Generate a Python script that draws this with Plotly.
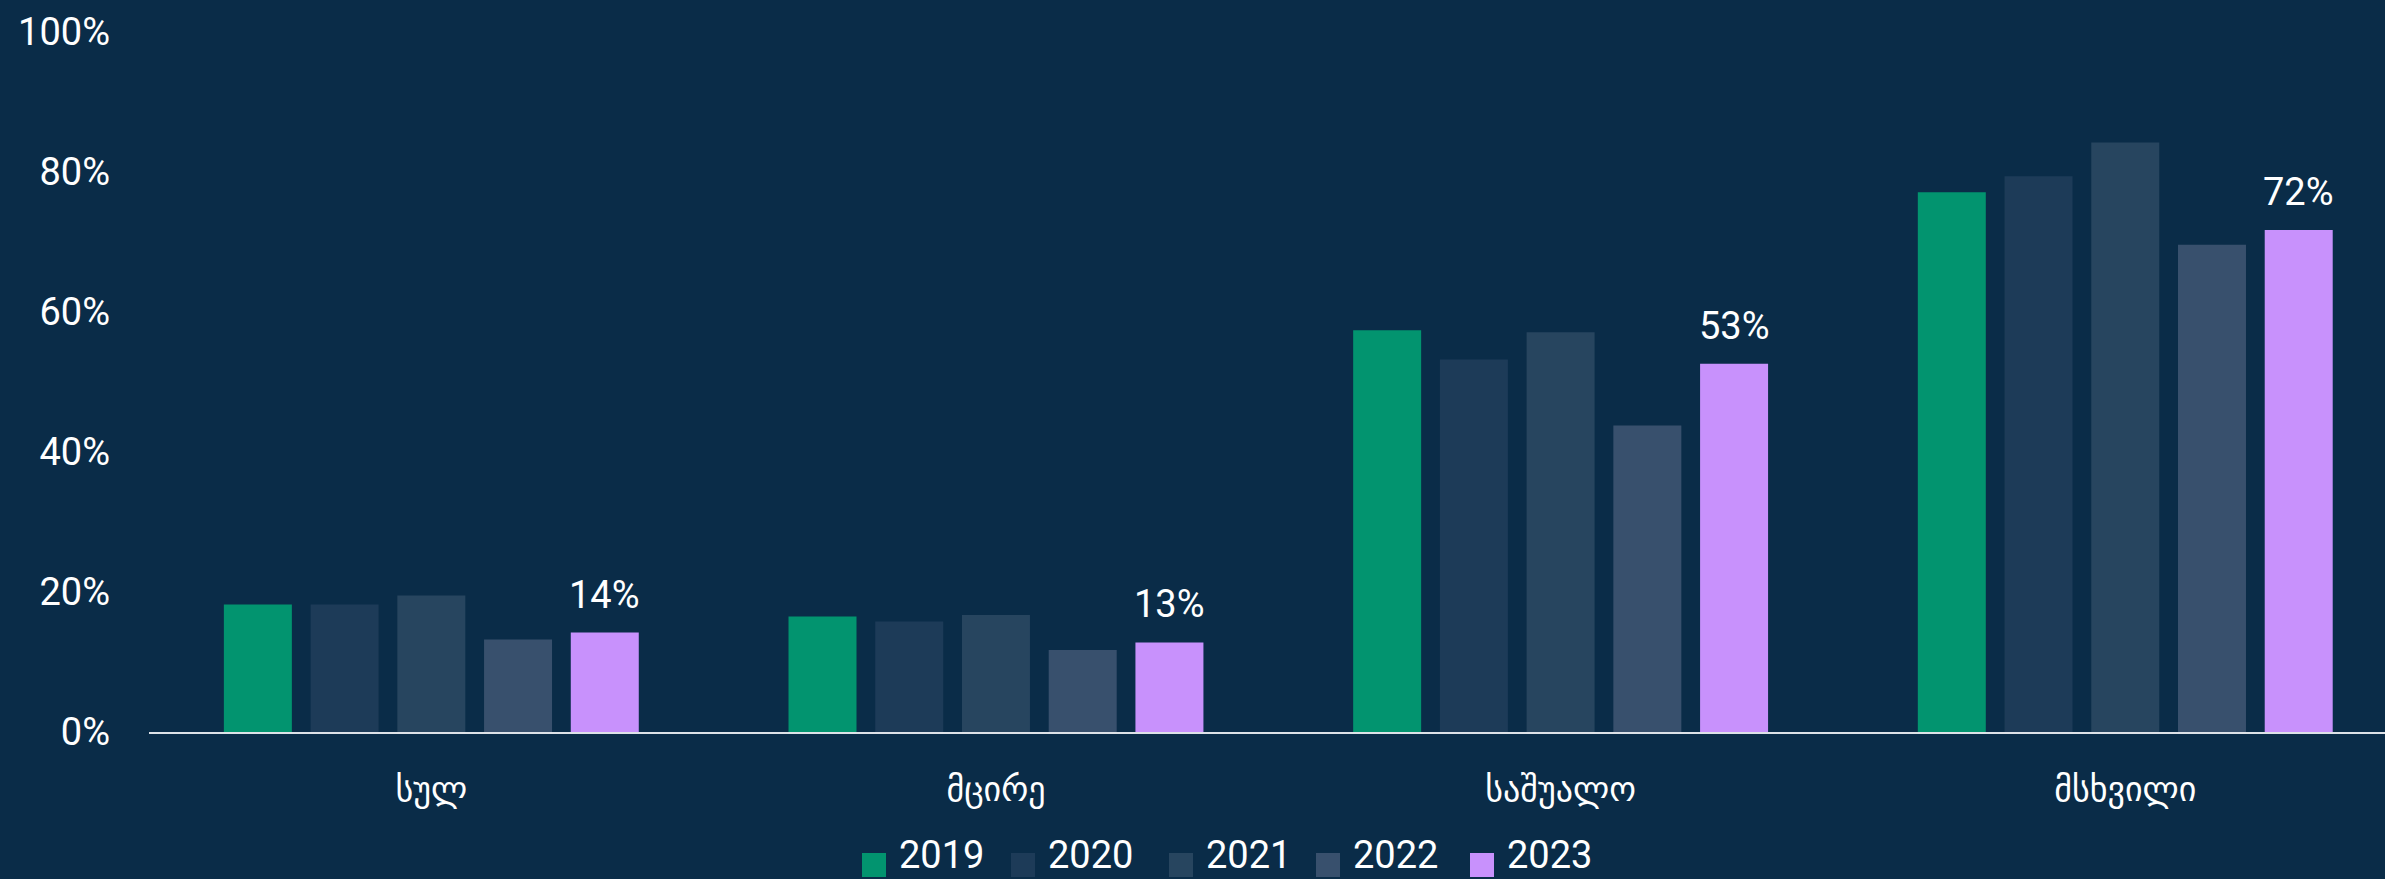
import plotly.graph_objects as go

categories = ["სულ", "მცირე", "საშუალო", "მსხვილი"]
years = ["2019", "2020", "2021", "2022", "2023"]
v2019 = [18.2, 16.5, 57.4, 77.1]
v2020 = [18.2, 15.8, 53.2, 79.4]
v2021 = [19.5, 16.7, 57.1, 84.2]
v2022 = [13.2, 11.7, 43.8, 69.6]
v2023 = [14.2, 12.8, 52.6, 71.7]
y_tick_vals = [0, 20, 40, 60, 80, 100]
y_tick_text = ["0%", "20%", "40%", "60%", "80%", "100%"]

series = [v2019, v2020, v2021, v2022, v2023]
colors = ["#02946f", "#1d3b58", "#27455f", "#38506d", "#c891fc"]

BG = "#0a2c48"
FONT = "Roboto, 'DejaVu Sans', sans-serif"

W, H = 2385, 879
ML, MR, MT, MB = 149, 0, 32, 147
PW, PH = W - ML - MR, H - MT - MB

fig = go.Figure()
for name, vals, col in zip(years, series, colors):
    fig.add_trace(go.Bar(
        x=categories, y=vals, name=name,
        marker=dict(color=col, line=dict(width=0)),
        showlegend=False,
        hovertemplate="%{x}: %{y:.0f}%<extra>" + name + "</extra>",
    ))

# value labels above the 2023 bars
cat_px = PW / 3.96
slot_px = cat_px * (1 - 0.232) / 5
annotations = []
for c, v in zip(categories, v2023):
    annotations.append(dict(
        x=c, y=v, xref="x", yref="y", text=f"{round(v)}%",
        showarrow=False, xanchor="center", yanchor="bottom",
        xshift=2 * slot_px, yshift=14,
        font=dict(family=FONT, size=38, color="#ffffff"),
    ))

# manual legend with large square swatches
def px_x(px):
    return (px - ML) / PW

def px_y(py):
    return (MT + PH - py) / PH

legend_left = [862, 1011, 1169, 1316, 1470]
shapes = []
for name, col, lx in zip(years, colors, legend_left):
    shapes.append(dict(
        type="rect", xref="paper", yref="paper",
        x0=px_x(lx), x1=px_x(lx + 24), y0=px_y(877), y1=px_y(853),
        fillcolor=col, line=dict(width=0), layer="above",
    ))
    annotations.append(dict(
        x=px_x(lx + 35), y=px_y(879), xref="paper", yref="paper",
        text=name, showarrow=False, xanchor="left", yanchor="bottom",
        font=dict(family=FONT, size=38, color="#ffffff"),
    ))

fig.update_layout(
    width=W, height=H,
    margin=dict(l=ML, r=MR, t=MT, b=MB, pad=0),
    paper_bgcolor=BG, plot_bgcolor=BG,
    barmode="group", bargap=0.232, bargroupgap=0.216,
    font=dict(family=FONT, color="#ffffff"),
    showlegend=False,
    annotations=annotations,
    shapes=shapes,
    xaxis=dict(
        type="category", range=[-0.5, 3.46],
        showgrid=False, zeroline=False,
        showline=True, linecolor="#dde2e8", linewidth=2,
        ticks="", ticklabelstandoff=26,
        tickfont=dict(family="'DejaVu Sans', sans-serif", size=34, color="#ffffff"),
    ),
    yaxis=dict(
        range=[0, 100], tickmode="array", tickvals=y_tick_vals, ticktext=y_tick_text,
        showgrid=False, zeroline=False, showline=False,
        ticks="", ticklabelstandoff=38,
        tickfont=dict(family=FONT, size=38, color="#ffffff"),
    ),
)

fig.write_html(
    "out.html",
    config={"displayModeBar": False},
    post_script="document.body.style.margin='0';document.body.style.overflow='hidden';",
)
